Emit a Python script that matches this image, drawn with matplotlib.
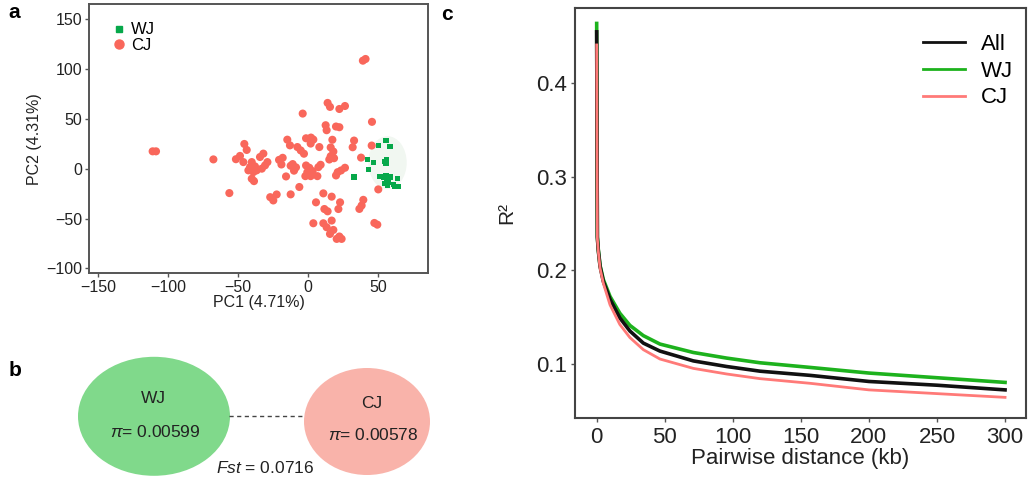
import matplotlib
matplotlib.use("Agg")
import matplotlib.pyplot as plt
from matplotlib.patches import Ellipse
from matplotlib.lines import Line2D

plt.rcParams['font.family'] = ['Liberation Sans', 'DejaVu Sans']
plt.rcParams['mathtext.fontset'] = 'custom'
plt.rcParams['mathtext.rm'] = 'Liberation Sans'
plt.rcParams['mathtext.it'] = 'Liberation Sans:italic'

# ---------------- Panel a: PCA ----------------
cj_pc1 = [39.2, 41.1, -3.8, 14.0, 15.7, 22.4, 26.4, 45.7, 12.6, 13.3, 20.0, 22.4,
          32.9, 31.9, 45.5, 37.9, 50.2, 39.5, 38.3, 36.7, 47.4, 49.5,
          -14.8, -12.9, -1.4, 2.1, 3.8, 1.9, -7.6, -5.2, -2.9, -18.1, -19.0,
          -10.95, -8.6, -10.0, -12.4, -15.7, -1.4, 0.95, -0.5, -1.9, 3.3, 1.9, 6.7,
          -6.2, -12.4, 8.1, 9.0, 7.4, 16.2, 18.1, 16.2, 18.6, 15.2, 17.4,
          21.2, 23.6, 26.4, 20.0, 10.95, 16.9, 22.9, 21.7, 5.7, 11.7, 14.0,
          3.8, 10.95, 13.3, 16.9, 18.1, 15.7, 22.4, 20.5, 24.0,
          -111.0, -108.6, -67.6, -56.2, -51.5, -48.6, -45.5, -43.8,
          -46.2, -42.6, -41.4, -40.2, -37.9, -39.0, -36.7, -38.6, -40.2,
          -34.3, -31.9, -30.7, -29.0, -33.0, -27.0, -24.8, -22.4, -20.7]
cj_pc2 = [108.6, 110.3, 55.5, 66.2, 62.2, 60.1, 63.1, 47.2, 43.8, 38.8, 42.5, 41.8,
          28.4, 21.7, 23.4, 11.3, -20.6, -31.1, -36.8, -40.2, -54.3, -56.0,
          29.3, 23.6, 30.7, 31.4, 29.4, 25.4, 21.9, 18.5, 15.2, 11.1, 4.4,
          4.8, 1.5, -1.8, 3.1, -7.6, 3.4, 1.1, -3.3, -7.3, -2.3, -7.3, -7.3,
          -18.2, -25.6, 21.9, 4.1, 1.7, 21.5, 17.4, 12.7, 10.7, 9.4, 29.2,
          -3.3, -1.6, 1.1, -6.6, -24.6, -27.9, -33.6, -40.3, -33.6, -40.3, -42.6,
          -54.6, -54.6, -58.6, -51.9, -61.3, -65.3, -67.9, -70.3, -70.3,
          17.6, 17.6, 9.5, -24.3, 9.7, 13.0, 25.0, 19.0,
          6.8, -1.5, 1.8, 6.8, 2.5, -3.2, -1.5, -12.3, -9.9,
          11.9, 15.3, 3.5, 6.8, 0.2, -28.4, -31.7, -25.7, 9.0]

wj_pc1 = [32.9, 42.4, 43.1, 46.7, 50.5, 55.7, 58.6, 51.4, 55.0, 56.2, 55.7,
          53.8, 56.2, 55.0, 57.4, 56.7, 58.6, 60.9, 63.8, 64.5, 62.1, 55.7]
wj_pc2 = [-8.2, 9.6, -0.5, 6.0, 23.1, 28.5, 22.5, -7.3, 7.3, 9.0, 5.0,
          -8.2, -11.6, -14.3, -13.3, -16.6, -8.2, -15.6, -9.9, -17.6, -17.6, -6.5]

pca_xticks = [-150, -100, -50, 0, 50]
pca_yticks = [-100, -50, 0, 50, 100, 150]

# ---------------- Panel b: diversity ----------------
wj_pi = 0.00599
cj_pi = 0.00578
fst = 0.0716

# ---------------- Panel c: LD decay ----------------
ld_dist = [0, 0.5, 1.2, 2.5, 4.9, 9.8, 17, 24.4, 34.3, 46.5, 71, 95.5, 120, 157, 200, 250, 300]
ld_wj = [0.464, 0.236, 0.222, 0.205, 0.190, 0.172, 0.154, 0.141, 0.130, 0.121, 0.112,
         0.106, 0.101, 0.096, 0.090, 0.085, 0.080]
ld_all = [0.455, 0.235, 0.221, 0.204, 0.188, 0.169, 0.149, 0.135, 0.122, 0.1135, 0.103,
          0.097, 0.092, 0.0875, 0.081, 0.077, 0.072]
ld_cj = [0.441, 0.234, 0.220, 0.202, 0.186, 0.163, 0.142, 0.128, 0.115, 0.105, 0.095,
         0.089, 0.084, 0.079, 0.072, 0.068, 0.064]
ld_xticks = [0, 50, 100, 150, 200, 250, 300]
ld_yticks = [0.1, 0.2, 0.3, 0.4]

RED = '#F9675B'
GREEN = '#06A84A'
SPINE = '#555555'

fig = plt.figure(figsize=(10.32, 4.86), dpi=100)

# ---- panel a ----
axA = fig.add_axes([0.0862, 0.4373, 0.3285, 0.5545])
axA.add_patch(Ellipse((56.8, 6.3), 27.4, 53, facecolor='#F1F7F1', edgecolor='none', zorder=1))
axA.scatter(cj_pc1, cj_pc2, s=34, color=RED, edgecolors='none', zorder=2)
axA.scatter(wj_pc1, wj_pc2, s=14, color=GREEN, marker='s', edgecolors='none', zorder=3)
axA.set_xlim(-156.5, 85.7)
axA.set_ylim(-105, 165.5)
axA.set_xticks(pca_xticks)
axA.set_yticks(pca_yticks)
axA.set_xticklabels(['\u2212150', '\u2212100', '\u221250', '0', '50'])
axA.set_yticklabels(['\u2212100', '\u221250', '0', '50', '100', '150'])
axA.tick_params(labelsize=11.5, length=3, width=1, color=SPINE, labelcolor='#222222', pad=2)
for sp in axA.spines.values():
    sp.set_color(SPINE)
    sp.set_linewidth(1.4)
axA.set_xlabel('PC1 (4.71%)', fontsize=11.5, color='#222222', labelpad=0)
axA.set_ylabel('PC2 (4.31%)', fontsize=11.5, color='#222222', labelpad=3)
handlesA = [Line2D([], [], marker='s', color=GREEN, linestyle='none', markersize=4),
            Line2D([], [], marker='o', color=RED, linestyle='none', markersize=6.5)]
axA.legend(handlesA, ['WJ', 'CJ'], loc='upper left', bbox_to_anchor=(0.03, 0.975),
           frameon=False, fontsize=12, handletextpad=0.2, labelspacing=0.05,
           handlelength=1.0, borderaxespad=0.3)

# ---- panel c ----
axC = fig.add_axes([0.5572, 0.1393, 0.437, 0.8442])
axC.plot(ld_dist, ld_wj, color='#1DB21D', lw=2.6, label='WJ', zorder=2)
axC.plot(ld_dist, ld_all, color='#111111', lw=2.6, label='All', zorder=3)
axC.plot(ld_dist, ld_cj, color='#FF7A78', lw=2.0, label='CJ', zorder=4)
axC.set_xlim(-15.9, 315.4)
axC.set_ylim(0.0416, 0.4805)
axC.set_xticks(ld_xticks)
axC.set_yticks(ld_yticks)
axC.tick_params(labelsize=16, length=3, width=1, color=SPINE, labelcolor='#222222', pad=3)
for sp in axC.spines.values():
    sp.set_color('#444444')
    sp.set_linewidth(1.5)
axC.set_xlabel('Pairwise distance (kb)', fontsize=16, color='#222222', labelpad=0)
axC.set_ylabel('R\u00b2', fontsize=15, color='#222222', labelpad=14)
h = axC.get_legend_handles_labels()
order = [1, 0, 2]
leg = axC.legend([h[0][i] for i in order], [h[1][i] for i in order], loc='upper right',
                 bbox_to_anchor=(1.015, 0.985), frameon=False, fontsize=16, handlelength=1.9,
                 handletextpad=0.7, labelspacing=0.25)
for line in leg.get_lines():
    line.set_linewidth(2.0)

# ---- overlay: panel b and panel letters ----
axO = fig.add_axes([0, 0, 1, 1], zorder=-1)
axO.set_xlim(0, 1032)
axO.set_ylim(486, 0)
axO.axis('off')
axO.patch.set_alpha(0)
axO.add_patch(Ellipse((154, 416.3), 152, 119, facecolor='#80D98B', edgecolor='none'))
axO.add_patch(Ellipse((367, 421.5), 126, 107, facecolor='#F9B3AA', edgecolor='none'))
axO.plot([229, 302], [416, 416], color='#444444', lw=1, linestyle=(0, (3, 2.5)))
axO.text(153, 398, 'WJ', fontsize=12.5, ha='center', va='center', color='#222222')
axO.text(155, 432, r'$\pi$= %.5f' % wj_pi, fontsize=12.5, ha='center', va='center', color='#222222')
axO.text(372, 403, 'CJ', fontsize=12.5, ha='center', va='center', color='#222222')
axO.text(373, 435, r'$\pi$= %.5f' % cj_pi, fontsize=12.5, ha='center', va='center', color='#222222')
axO.text(265, 468, r'$\it{Fst}$ = %.4f' % fst, fontsize=12.5, ha='center', va='center', color='#222222')
axO.text(8, 12, 'a', fontsize=15, fontweight='bold', ha='left', va='center')
axO.text(9, 370, 'b', fontsize=15, fontweight='bold', ha='left', va='center')
axO.text(441, 15, 'c', fontsize=15, fontweight='bold', ha='left', va='center')

fig.savefig('out.png', dpi=100)
